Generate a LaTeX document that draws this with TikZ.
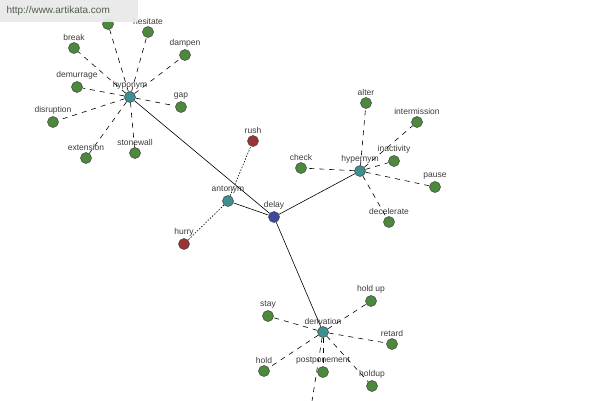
\documentclass[tikz,border=0pt]{standalone}
\usepackage{fontspec}
\setmainfont{Liberation Sans}
\definecolor{leafgreen}{HTML}{4B8A3C}
\definecolor{hubteal}{HTML}{3E9090}
\definecolor{rootblue}{HTML}{3F4A9E}
\definecolor{antred}{HTML}{9A3434}
\definecolor{labgray}{HTML}{3C3C3C}
\definecolor{wmgray}{HTML}{E9E9E9}
\definecolor{wmtext}{HTML}{4F5F48}
\begin{document}
\begin{tikzpicture}[x=1pt,y=-1pt,
  dot/.style={circle,draw=black!75,line width=0.5pt,minimum size=11pt,inner sep=0pt},
  leaf/.style={dot,fill=leafgreen},
  hub/.style={dot,fill=hubteal},
  root/.style={dot,fill=rootblue},
  ant/.style={dot,fill=antred},
  every label/.style={font=\fontsize{8.5}{9}\selectfont,text=labgray,inner sep=0pt},
  label distance=1.5pt,
  rel/.style={line width=0.6pt,black},
  syn/.style={line width=0.6pt,black,dash pattern=on 5pt off 5pt},
  opp/.style={line width=0.6pt,black,dash pattern=on 1.5pt off 1.5pt}
]
\useasboundingbox (0,0) rectangle (600,400);
\clip (0,0) rectangle (600,400);
\fill[white] (0,0) rectangle (600,400);

% hubs
\node[root,label=above:delay] (delay) at (274,217) {};
\node[hub,label=above:hyponym] (hypo) at (130,97) {};
\node[hub,label=above:hypernym] (hyper) at (360,171) {};
\node[hub,label=above:derivation] (deriv) at (323,332) {};
\node[hub,label=above:antonym] (anto) at (228,201) {};

% hyponym leaves
\node[leaf] (hidden) at (108,24) {};
\node[leaf,label=above:hesitate] (hesitate) at (148,32) {};
\node[leaf,label=above:dampen] (dampen) at (185,55) {};
\node[leaf,label=above:break] (break) at (74,48) {};
\node[leaf,label=above:demurrage] (demurrage) at (77,87) {};
\node[leaf,label=above:gap] (gap) at (181,107) {};
\node[leaf,label=above:disruption] (disruption) at (53,122) {};
\node[leaf,label=above:extension] (extension) at (86,158) {};
\node[leaf,label=above:stonewall] (stonewall) at (135,153) {};

% hypernym leaves
\node[leaf,label=above:alter] (alter) at (366,103) {};
\node[leaf,label=above:intermission] (intermission) at (417,122) {};
\node[leaf,label=above:inactivity] (inactivity) at (394,161) {};
\node[leaf,label=above:pause] (pause) at (435,187) {};
\node[leaf,label=above:decelerate] (decelerate) at (389,222) {};
\node[leaf,label=above:check] (check) at (301,168) {};

% antonyms
\node[ant,label=above:rush] (rush) at (253,141) {};
\node[ant,label=above:hurry] (hurry) at (184,244) {};

% derivation leaves
\node[leaf,label=above:hold up] (holdup1) at (371,301) {};
\node[leaf,label=above:stay] (stay) at (268,316) {};
\node[leaf,label=above:retard] (retard) at (392,344) {};
\node[leaf,label=above:hold] (hold) at (264,371) {};
\node[leaf,label=above:postponement] (postponement) at (323,372) {};
\node[leaf,label=above:holdup] (holdup2) at (372,386) {};
\coordinate (offpage) at (309,420);

% relations
\draw[rel] (delay) -- (hypo);
\draw[rel] (delay) -- (hyper);
\draw[rel] (delay) -- (deriv);
\draw[rel] (delay) -- (anto);

\foreach \n in {hidden,hesitate,dampen,break,demurrage,gap,disruption,extension,stonewall}
  \draw[syn] (hypo) -- (\n);
\foreach \n in {alter,intermission,inactivity,pause,decelerate,check}
  \draw[syn] (hyper) -- (\n);
\foreach \n in {holdup1,stay,retard,hold,postponement,holdup2}
  \draw[syn] (deriv) -- (\n);
\draw[syn] (deriv) -- (offpage);
\draw[opp] (anto) -- (rush);
\draw[opp] (anto) -- (hurry);

% watermark
\node[fill=wmgray,fill opacity=0.95,text opacity=1,minimum width=138pt,minimum height=22pt,anchor=north west,inner sep=0pt,
      font=\fontsize{10}{12}\selectfont,text=wmtext] (wm) at (0,0) {\hspace*{-22pt}http://www.artikata.com};
\end{tikzpicture}
\end{document}
